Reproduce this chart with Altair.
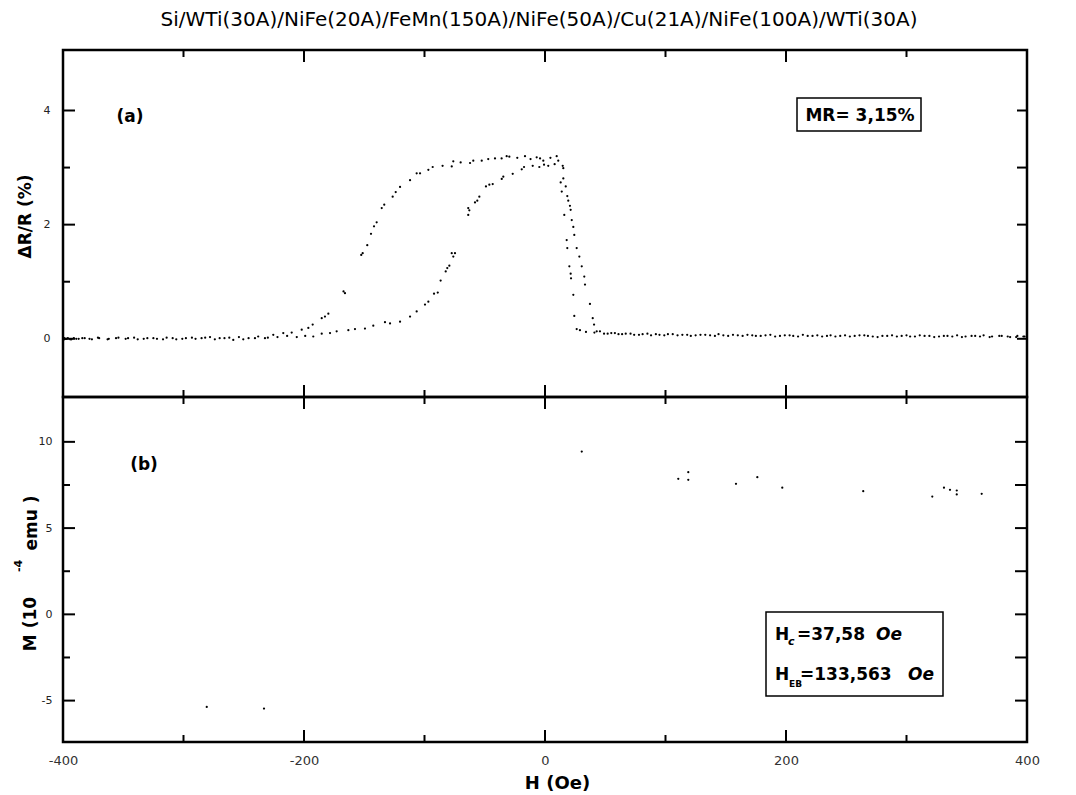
import altair as alt
import pandas as pd

W, H1, H2 = 964, 347, 345
FONT = "DejaVu Sans"

title_text = "Si/WTi(30A)/NiFe(20A)/FeMn(150A)/NiFe(50A)/Cu(21A)/NiFe(100A)/WTi(30A)"

x_domain = [-400, 400]
mr_domain = [-1.02, 5.06]
m_domain = [-7.4, 12.6]
x_label_values = [-400, -200, 0, 200, 400]
x_major_ticks = [-200, 0, 200]
x_minor_ticks = [-300, -100, 100, 300]
mr_label_values = [0, 2, 4]
mr_minor_ticks = [1, 3]
mr_right_ticks = [0, 1, 2, 3, 4]
m_label_values = [-5, 0, 5, 10]
m_minor_ticks = [-2.5, 2.5, 7.5]
m_right_ticks = [-5, -2.5, 0, 2.5, 5, 7.5, 10]

# ---- panel (a): Delta R / R (%) vs H (Oe) ----
a_flat_right = [(398,0.04),(392,0.05),(386,0.03),(379,0.05),(371,0.04),(364,0.06),(357,0.05),(349,0.04),
                (342,0.06),(334,0.05),(327,0.04),(319,0.05),(311,0.06),(303,0.04),(296,0.05),(288,0.06),
                (280,0.05),(272,0.04),(265,0.06),(257,0.05),(249,0.06),(241,0.04),(234,0.05),(226,0.06),
                (218,0.05),(210,0.04),(203,0.06),(195,0.05),(187,0.07),(179,0.05),(172,0.06),(164,0.05),
                (156,0.07),(148,0.06),(141,0.05),(133,0.07),(125,0.06),(118,0.07),(110,0.06),(102,0.08),
                (95,0.07),(88,0.06),(81,0.08),(74,0.07),(67,0.09),(61,0.08),(55,0.10),(49,0.09),
                (41,0.11),(34,0.12),(29,0.15)]
a_steep = [(26.3,0.17),(24.3,0.40),(23.5,0.77),(21.6,1.06),(21.3,1.14),(20.2,1.27),(18.5,1.59),
           (18.0,1.73),(16.0,2.17),(13.9,2.58),(13.0,2.74),(15.2,2.81),(14.7,3.03),(11.0,3.12)]
a_plateau = [(9.7,3.20),(4.5,3.17),(-1.4,3.12),(-4.1,3.16),(-6.9,3.18),(-12.0,3.15),(-16.6,3.20),
             (-23.0,3.17),(-29.6,3.19),(-31.8,3.20),(-36.0,3.16),(-41.5,3.16),(-47.1,3.15),(-52.5,3.12),
             (-59.5,3.12),(-62.2,3.08),(-70.0,3.09),(-76.1,3.11),(-77.4,3.02),(-85.0,3.03),(-93.2,3.01),
             (-96.8,2.96),(-103.7,2.90),(-106.5,2.90)]
a_drop = [(-112.0,2.78),(-120.3,2.66),(-123.9,2.57),(-126.4,2.49),(-133.4,2.35),(-135.5,2.29),
          (-139.7,2.04),(-141.9,1.97),(-144.4,1.84),(-147.5,1.64),(-151.3,1.50),(-152.5,1.47),
          (-166.0,0.80),(-167.2,0.83),(-179.8,0.44),(-182.6,0.39),(-185.3,0.36),(-192.8,0.25),
          (-196.4,0.19),(-201.9,0.16),(-210.2,0.11),(-217.2,0.10),(-225.5,0.07),(-232.4,0.01),
          (-240.7,0.01),(-250.4,-0.01),(-258.7,-0.02)]
a_flat_left = [(-266,0.01),(-274,-0.01),(-282,0.02),(-290,0.00),(-298,0.01),(-306,-0.01),(-314,0.02),
               (-322,0.00),(-330,0.01),(-338,-0.01),(-346,0.01),(-354,0.02),(-362,0.00),(-370,0.01),
               (-376,-0.01),(-382,0.01),(-387,0.00),(-391,0.01),(-394,-0.01),(-397,0.00),(-399,0.01)]

b_flat_left = [(-399,-0.01),(-398,0.00),(-396,0.01),(-393,-0.01),(-389,0.00),(-384,0.01),(-378,0.00),
               (-371,0.02),(-363,-0.01),(-356,0.01),(-348,0.00),(-341,0.02),(-333,0.00),(-325,0.01),
               (-317,-0.01),(-309,0.01),(-301,0.00),(-293,0.02),(-285,0.01),(-278,0.03),(-270,0.01),
               (-262,0.02),(-254,0.03),(-246,0.01),(-238,0.04),(-230,0.02),(-222,0.03),(-214,0.05),
               (-206,0.03),(-199,0.05)]
b_rise = [(-192.3,0.04),(-185.3,0.09),(-178.4,0.10),(-172.9,0.13),(-163.2,0.15),(-157.7,0.17),
          (-149.4,0.18),(-142.5,0.23),(-132.8,0.29),(-128.6,0.27),(-120.3,0.30),(-112.0,0.39),
          (-106.5,0.48),(-99.6,0.60),(-96.8,0.65),(-92.1,0.79),(-89.0,0.81),(-86.6,1.02),
          (-82.4,1.18),(-81.1,1.24),(-79.4,1.28),(-76.1,1.44),(-77.4,1.50),(-74.7,1.50),
          (-63.7,2.17),(-62.8,2.25),(-63.7,2.29),(-58.1,2.39),(-56.2,2.42),(-54.5,2.49),
          (-49.0,2.67),(-46.2,2.70),(-43.4,2.71),(-35.9,2.80),(-34.6,2.84),(-26.8,2.89),
          (-19.3,2.97),(-17.4,3.01),(-10.2,3.03),(-4.7,3.01),(-0.8,3.05),(2.7,3.03),(8.0,3.06)]
b_drop = [(15.2,2.99),(17.2,2.67),(18.5,2.50),(19.3,2.42),(20.7,2.33),(21.3,2.26),(22.2,2.08),
          (23.5,1.96),(24.3,1.82),(26.3,1.59),(28.5,1.44),(30.5,1.27),(32.6,1.09),(33.2,0.95),
          (37.3,0.61),(39.6,0.36),(40.7,0.25),(42.9,0.13),(45.6,0.13)]
b_flat_right = [(52,0.09),(58,0.10),(64,0.08),(71,0.09),(78,0.07),(85,0.09),(92,0.08),(99,0.06),
                (106,0.08),(114,0.07),(121,0.05),(129,0.07),(137,0.06),(144,0.08),(152,0.05),(160,0.06),
                (168,0.07),(175,0.05),(183,0.06),(191,0.04),(199,0.06),(206,0.05),(214,0.07),(222,0.05),
                (230,0.04),(237,0.06),(245,0.05),(253,0.04),(261,0.06),(268,0.05),(276,0.03),(284,0.05),
                (292,0.04),(300,0.06),(307,0.04),(315,0.05),(323,0.03),(331,0.05),(338,0.04),(346,0.03),
                (354,0.05),(361,0.04),(369,0.03),(377,0.05),(384,0.04),(391,0.03),(397,0.04)]

# ---- panel (b): M (10^-4 emu) vs H (Oe), the few visible points ----
m_points = [(-280.7,-5.37),(-233.2,-5.46),(30.5,9.44),(110.6,7.86),(118.9,8.24),(118.9,7.80),
            (158.5,7.57),(176.2,7.95),(196.9,7.34),(264.1,7.14),(321.4,6.83),(331.1,7.34),
            (336.1,7.22),(341.7,7.18),(341.7,6.95),(362.4,6.99)]

mr_rows = []
for seg in (a_flat_right, a_steep, a_plateau, a_drop, a_flat_left,
            b_flat_left, b_rise, b_drop, b_flat_right):
    mr_rows.extend(seg)
mr_df = pd.DataFrame(mr_rows, columns=["H", "MR"])
m_df = pd.DataFrame(m_points, columns=["H", "M"])

xs = alt.Scale(domain=x_domain, nice=False, zero=False)
ys1 = alt.Scale(domain=mr_domain, nice=False, zero=False)
ys2 = alt.Scale(domain=m_domain, nice=False, zero=False)

neg_expr = "datum.value < 0 ? '-' + abs(datum.value) : '' + datum.value"

# axes (the same object is given to every layer that uses the channel)
y_axis_top = alt.Axis(
    values=mr_label_values, ticks=False, tickSize=0, domain=False, grid=False,
    labelPadding=13, labelFontSize=11, labelFont=FONT, labelColor="#222", labelExpr=neg_expr,
    title="ΔR/R (%)", titleFont=FONT, titleFontSize=17, titleFontWeight="bold",
    titleX=-38, titleY=166, titleBaseline="middle", titleAngle=270)
y_axis_bot = alt.Axis(
    values=m_label_values, ticks=False, tickSize=0, domain=False, grid=False,
    labelPadding=11, labelFontSize=11, labelFont=FONT, labelColor="#222", labelExpr=neg_expr,
    title="")
x_axis_bot = alt.Axis(
    values=x_label_values, ticks=False, tickSize=0, domain=False, grid=False,
    labelPadding=12, labelFontSize=13, labelFont=FONT, labelColor="#333", labelFlush=False,
    labelExpr=neg_expr,
    title="H (Oe)", titleFont=FONT, titleFontSize=18, titleFontWeight="bold",
    titleX=494, titleY=41, titleBaseline="middle")


def one(**kw):
    return pd.DataFrame({k: [v] for k, v in kw.items()}) if kw else pd.DataFrame({"d": [0]})


def hticks(values, scale, axis, x0, x1):
    return alt.Chart(pd.DataFrame({"v": values})).mark_rule(color="black", strokeWidth=2).encode(
        y=alt.Y("v:Q", scale=scale, axis=axis), x=alt.value(x0), x2=alt.value(x1))


def vticks(values, axis, y0, y1):
    return alt.Chart(pd.DataFrame({"v": values})).mark_rule(color="black", strokeWidth=2).encode(
        x=alt.X("v:Q", scale=xs, axis=axis), y=alt.value(y0), y2=alt.value(y1))


def label(text, x, y, size=17, weight="bold", style="normal", align="center", baseline="middle", angle=0):
    return alt.Chart(one(t=text)).mark_text(
        font=FONT, fontSize=size, fontWeight=weight, fontStyle=style, color="black",
        align=align, baseline=baseline, angle=angle).encode(
        text="t:N", x=alt.value(x), y=alt.value(y))


def box(x0, x1, y0, y1):
    return alt.Chart(one()).mark_rect(fill="white", stroke="black", strokeWidth=1.5).encode(
        x=alt.value(x0), x2=alt.value(x1), y=alt.value(y0), y2=alt.value(y1))


# ---------------- top panel ----------------
pts_a = alt.Chart(mr_df).mark_circle(size=5, color="black", opacity=1).encode(
    x=alt.X("H:Q", scale=xs, axis=None),
    y=alt.Y("MR:Q", scale=ys1, axis=y_axis_top))

top = alt.layer(
    pts_a,
    hticks(mr_label_values, ys1, y_axis_top, 0, 12),
    hticks(mr_minor_ticks, ys1, y_axis_top, 0, 7),
    hticks(mr_right_ticks, ys1, y_axis_top, W - 10, W),
    vticks(x_major_ticks, None, 0, 12),
    vticks(x_minor_ticks, None, 0, 7),
    vticks(x_major_ticks, None, H1 - 12, H1),
    vticks(x_minor_ticks, None, H1 - 7, H1),
    box(734, 858, 48, 81),
    label("MR= 3,15%", 797, 66),
    label("(a)", 67, 67),
    label(title_text, 476, -30, size=20, weight="normal"),
).properties(width=W, height=H1)

# ---------------- bottom panel ----------------
pts_b = alt.Chart(m_df).mark_circle(size=5, color="black", opacity=1).encode(
    x=alt.X("H:Q", scale=xs, axis=x_axis_bot),
    y=alt.Y("M:Q", scale=ys2, axis=y_axis_bot))

bottom = alt.layer(
    pts_b,
    hticks(m_label_values, ys2, y_axis_bot, 0, 12),
    hticks(m_minor_ticks, ys2, y_axis_bot, 0, 7),
    hticks(m_right_ticks, ys2, y_axis_bot, W - 12, W),
    vticks(x_major_ticks, x_axis_bot, 0, 12),
    vticks(x_minor_ticks, x_axis_bot, 0, 7),
    vticks(x_major_ticks, x_axis_bot, H2 - 12, H2),
    vticks(x_minor_ticks, x_axis_bot, H2 - 7, H2),
    label("M (10", -27, 227, size=17, baseline="alphabetic", angle=270),
    label("-4", -41, 169, size=11, baseline="alphabetic", angle=270),
    label("emu )", -26, 126, size=17, baseline="alphabetic", angle=270),
    label("(b)", 81, 68),
    box(703, 880, 215, 299),
    label("H", 712, 238, align="left"),
    label("c", 725, 245, size=11, style="italic", align="left"),
    label("=37,58", 734, 238, align="left"),
    label("Oe", 813, 238, style="italic", align="left"),
    label("H", 712, 278, align="left"),
    label("EB", 726, 287, size=9, align="left"),
    label("=133,563", 737, 278, align="left"),
    label("Oe", 845, 278, style="italic", align="left"),
).properties(width=W, height=H2)

chart = alt.vconcat(top, bottom, spacing=0, bounds="flush").properties(
    padding={"left": 3, "top": 0, "right": 5, "bottom": 1},
    background="white",
).configure_view(stroke="black", strokeWidth=2.5)

chart.save("out.html", embed_options={"renderer": "svg", "actions": False})
